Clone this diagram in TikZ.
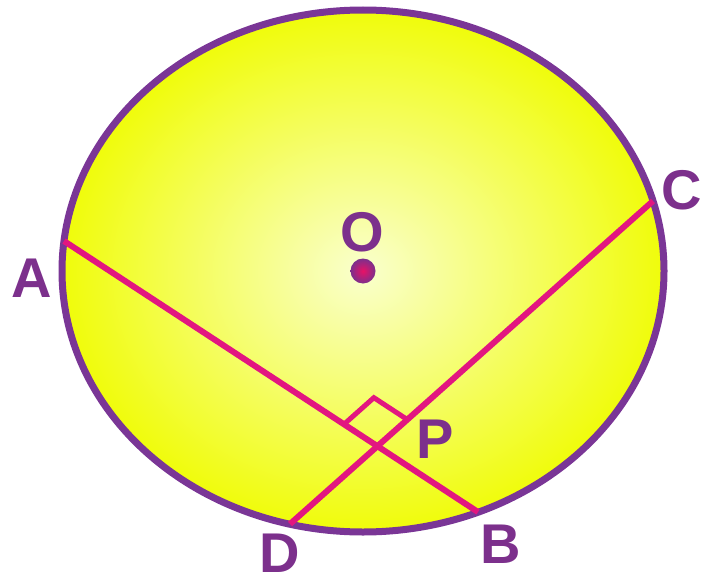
\documentclass[tikz,border=0pt]{standalone}
\usepackage{fontspec}
\setmainfont{Liberation Sans}
\usetikzlibrary{calc}
\definecolor{purp}{RGB}{124,48,140}
\definecolor{rim}{RGB}{122,54,150}
\definecolor{chord}{RGB}{226,22,128}
\definecolor{ylw}{RGB}{240,252,10}
\definecolor{ylwc}{RGB}{250,255,205}
\tikzset{
  lbl/.style={text=purp, font=\fontsize{56}{60}\selectfont\bfseries, anchor=base, inner sep=0pt},
  chordline/.style={draw=chord, line width=6pt},
  rimline/.style={draw=rim, line width=7pt}
}
\begin{document}
\begin{tikzpicture}[x=1pt,y=-1pt]
\useasboundingbox (0,0) rectangle (704,578);
\coordinate (O) at (363,271);
\shade[inner color=ylwc, outer color=ylw] (O) ellipse [x radius=301, y radius=261];
\draw[rimline] (O) ellipse [x radius=301, y radius=261];
\coordinate (A) at (64,241);
\coordinate (B) at (478,512);
\coordinate (C) at (653,201);
\coordinate (D) at (290,524);
\coordinate (P) at (intersection of A--B and D--C);
\draw[chordline] (A) -- (B);
\draw[chordline] (D) -- (C);
\coordinate (m1) at ($(P)!40pt!(A)$);
\coordinate (m2) at ($(P)!40pt!(C)$);
\coordinate (m3) at ($(m1)+(m2)-(P)$);
\draw[draw=chord, line width=5pt, line join=miter] (m1) -- (m3) -- (m2);
\shade[inner color=chord!80!red, outer color=purp] (O) circle [radius=12.5];
\node[lbl] (lO) at (362,251) {O};
\node[lbl] (lA) at (32,297) {A};
\node[lbl] (lC) at (682,209) {C};
\node[lbl] (lP) at (435,458) {P};
\node[lbl] (lD) at (280,572) {D};
\node[lbl] (lB) at (501,563) {B};
\end{tikzpicture}
\end{document}
